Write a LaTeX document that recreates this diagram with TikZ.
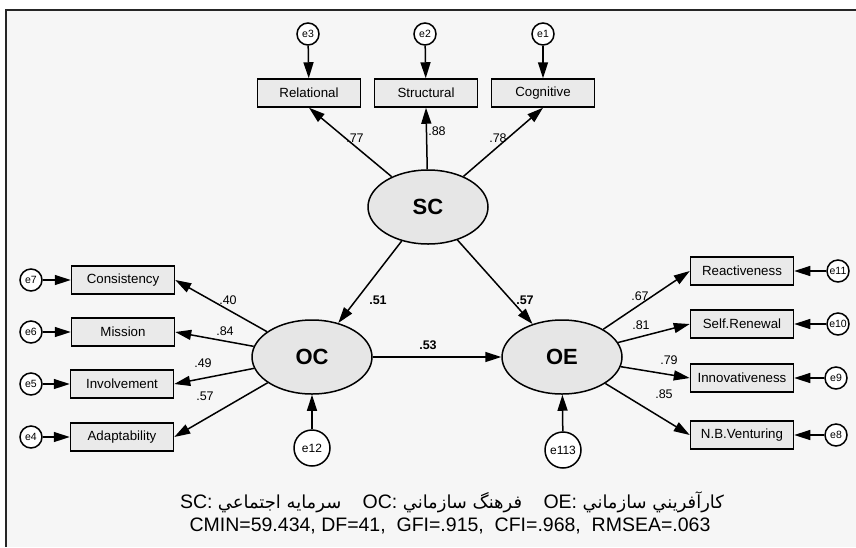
\documentclass[tikz,border=0pt]{standalone}
\usepackage{fontspec}
\setmainfont{Liberation Sans}
\newfontfamily\arabicfont[Script=Arabic,Scale=0.92]{DejaVu Sans}
\TeXXeTstate=1
\usetikzlibrary{arrows.meta,shapes.geometric}
\definecolor{bggray}{RGB}{246,246,246}
\definecolor{boxgray}{RGB}{234,234,234}
\definecolor{latgray}{RGB}{230,230,230}
\begin{document}
\begin{tikzpicture}[x=1pt,y=-1pt,
  obs/.style={draw, line width=1.5pt, fill=boxgray, minimum width=103pt, minimum height=28pt, inner sep=0pt, font=\fontsize{13.3}{15}\selectfont},
  lat/.style={ellipse, draw, line width=1.5pt, fill=latgray, minimum width=120pt, minimum height=74pt, inner sep=0pt, font=\fontsize{22}{25}\selectfont\bfseries},
  err/.style={circle, draw, line width=1.5pt, fill=white, minimum size=22pt, inner sep=0pt, font=\fontsize{10.5}{12}\selectfont},
  bigerr/.style={err, minimum size=36pt, font=\fontsize{12}{14}\selectfont},
  arr/.style={-{Triangle[length=16pt,width=10pt]}, line width=1.5pt},
  coef/.style={inner sep=0pt, font=\fontsize{12.5}{14}\selectfont},
  bcoef/.style={inner sep=0pt, font=\fontsize{12.5}{14}\selectfont\bfseries},
  legend/.style={inner sep=0pt, font=\fontsize{19.5}{22}\selectfont}]
\useasboundingbox (0,0) rectangle (856,547);
\fill[bggray] (6,10) rectangle (856,547);
\draw[line width=2pt, black!85] (856,10) -- (6,10) -- (6,547);

% top indicators
\node[err] (e3) at (308,34) {e3};
\node[err] (e2) at (425,34) {e2};
\node[err] (e1) at (543,34) {e1};
\node[obs] (rel) at (309,93) {Relational};
\node[obs] (str) at (426,93) {Structural};
\node[obs] (cog) at (543,93) {Cognitive};

% latent variables
\node[lat] (SC) at (428,207) {SC};
\node[lat] (OC) at (312,357) {OC};
\node[lat] (OE) at (562,357) {OE};

% left indicators
\node[obs] (con) at (123,280) {Consistency};
\node[obs] (mis) at (123,332) {Mission};
\node[obs] (inv) at (122,384) {Involvement};
\node[obs] (ada) at (122,437) {Adaptability};
\node[err] (e7) at (31,280) {e7};
\node[err] (e6) at (31,332) {e6};
\node[err] (e5) at (31,384) {e5};
\node[err] (e4) at (31,437) {e4};

% right indicators
\node[obs] (rea) at (742,271) {Reactiveness};
\node[obs] (sel) at (742,324) {Self.Renewal};
\node[obs] (inn) at (742,378) {Innovativeness};
\node[obs] (nbv) at (742,435) {N.B.Venturing};
\node[err] (e11) at (838,271) {e11};
\node[err] (e10) at (838,324) {e10};
\node[err] (e9) at (836,378) {e9};
\node[err] (e8) at (836,435) {e8};

% disturbances
\node[bigerr] (e12) at (312,448) {e12};
\node[bigerr] (e113) at (563,450) {e113};

% error arrows
\draw[arr] (e3) -- (rel);
\draw[arr] (e2) -- (str);
\draw[arr] (e1) -- (cog);
\draw[arr] (e7) -- (con);
\draw[arr] (e6) -- (mis);
\draw[arr] (e5) -- (inv);
\draw[arr] (e4) -- (ada);
\draw[arr] (e11) -- (rea);
\draw[arr] (e10) -- (sel);
\draw[arr] (e9) -- (inn);
\draw[arr] (e8) -- (nbv);
\draw[arr] (e12) -- (OC);
\draw[arr] (e113) -- (OE);

% loadings
\draw[arr] (SC) -- (rel.south);
\draw[arr] (SC) -- (str.south);
\draw[arr] (SC) -- (cog.south);
\draw[arr] (OC) -- (con.east);
\draw[arr] (OC) -- (mis.east);
\draw[arr] (OC) -- (inv.east);
\draw[arr] (OC) -- (ada.east);
\draw[arr] (OE) -- (rea.west);
\draw[arr] (OE) -- (sel.west);
\draw[arr] (OE) -- (inn.west);
\draw[arr] (OE) -- (nbv.west);

% structural paths
\draw[arr] (SC) -- (OC);
\draw[arr] (SC) -- (OE);
\draw[arr] (OC) -- (OE);

% coefficients
\node[coef] (c77) at (355,138) {.77};
\node[coef] (c88) at (437,131) {.88};
\node[coef] (c78) at (498,138) {.78};
\node[bcoef] (c51) at (378,300) {.51};
\node[bcoef] (c57) at (525,300) {.57};
\node[bcoef] (c53) at (428,345) {.53};
\node[coef] (c40) at (228,300) {.40};
\node[coef] (c84) at (225,331) {.84};
\node[coef] (c49) at (203,363) {.49};
\node[coef] (c57b) at (205,396) {.57};
\node[coef] (c67) at (640,296) {.67};
\node[coef] (c81) at (641,325) {.81};
\node[coef] (c79) at (669,360) {.79};
\node[coef] (c85) at (664,394) {.85};

% legend
\node[legend] (leg1) at (452,502) {SC: {\arabicfont\beginR سرمايه اجتماعي\endR}\hspace{1.1em}OC: {\arabicfont\beginR فرهنگ سازماني\endR}\hspace{1.1em}OE: {\arabicfont\beginR كارآفريني سازماني\endR}};
\node[legend] (leg2) at (450,526) {CMIN=59.434, DF=41,\ \ GFI=.915,\ \ CFI=.968,\ \ RMSEA=.063};
\end{tikzpicture}
\end{document}
